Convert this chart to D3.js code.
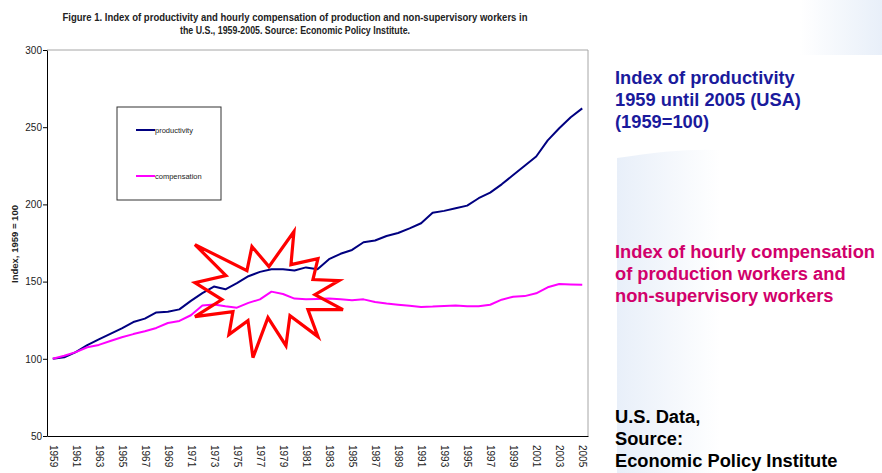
<!DOCTYPE html>
<html lang="en">
  <head>
    <meta charset="UTF-8" />
    <title>Productivity and compensation index, 1959-2005</title>
    <script src="https://d3js.org/d3.v7.min.js"></script>
    <style>
      body {
        margin: 0;
        background: #fff;
      }
      svg {
        display: block;
        font-family: "Liberation Sans", Arial, sans-serif;
      }
    </style>
  </head>
  <body>
    <script>
      // years on the category axis
      const years = d3.range(1959, 2006);

      // index values, 1959 = 100
      const productivity = [
        100, 101, 104.3, 108.8, 112.6, 116.2, 119.7, 123.8, 126, 130,
        130.5, 132, 137.5, 142.5, 146.8, 145, 149, 153.5, 156.3, 158,
        158, 157.2, 159.2, 158, 164.5, 168, 170.5, 175.5, 176.6, 179.5,
        181.5, 184.5, 187.8, 194.6, 195.8, 197.5, 199.2, 204, 207.6, 213,
        219, 225, 231, 241.5, 249.3, 256.4, 262.2
      ];
      const compensation = [
        100, 102, 104.3, 107.5, 109, 111.5, 114, 116, 117.8, 120,
        123.2, 124.5, 128.2, 134.5, 135.2, 134, 133.1, 136.2, 138.5, 143.5,
        142, 139, 138.6, 138.8, 139, 138.5, 138, 138.5, 136.8, 135.8,
        135, 134.3, 133.6, 133.8, 134.2, 134.6, 134.1, 134, 135, 138.3,
        140.2, 140.6, 142.4, 146.3, 148.4, 148.2, 148
      ];

      const yTicks = [50, 100, 150, 200, 250, 300];
      const xTickYears = years.filter((d, i) => i % 2 === 0);

      const series = [
        { name: "productivity", values: productivity, color: "#000080" },
        { name: "compensation", values: compensation, color: "#ff00ff" }
      ];

      const titleLines = [
        "Figure 1. Index of productivity and hourly compensation of production and non-supervisory workers in",
        "the U.S., 1959-2005. Source: Economic Policy Institute."
      ];

      const sideNotes = [
        { lines: ["Index of productivity", "1959 until 2005 (USA)", "(1959=100)"], color: "#1a1a9c", top: 84 },
        { lines: ["Index of hourly compensation", "of production workers and", "non-supervisory workers"], color: "#d1006b", top: 258 },
        { lines: ["U.S. Data,", "Source:", "Economic Policy Institute"], color: "#000000", top: 423 }
      ];

      const width = 882;
      const height = 473;
      const plot = { left: 47, right: 588, top: 50, bottom: 436 };

      const svg = d3
        .select("body")
        .append("svg")
        .attr("width", width)
        .attr("height", height);

      // faint slide background on the right
      const defs = svg.append("defs");
      const grad = defs
        .append("linearGradient")
        .attr("id", "bgFade")
        .attr("x1", 0)
        .attr("x2", 1);
      grad.append("stop").attr("offset", 0).attr("stop-color", "#e8eff9");
      grad.append("stop").attr("offset", 1).attr("stop-color", "#ffffff");
      const grad2 = defs
        .append("linearGradient")
        .attr("id", "cornerFade")
        .attr("x1", 1)
        .attr("x2", 0);
      grad2.append("stop").attr("offset", 0).attr("stop-color", "#e8eff9");
      grad2.append("stop").attr("offset", 1).attr("stop-color", "#ffffff");

      svg
        .append("path")
        .attr("d", "M617,158 Q680,148 720,150 L720,473 L617,473 Z")
        .attr("fill", "url(#bgFade)");
      svg
        .append("rect")
        .attr("x", 800)
        .attr("y", 0)
        .attr("width", 82)
        .attr("height", 55)
        .attr("fill", "url(#cornerFade)");

      // scales
      const x = d3
        .scalePoint()
        .domain(years)
        .range([plot.left, plot.right])
        .padding(0.5);
      const y = d3
        .scaleLinear()
        .domain([50, 300])
        .range([plot.bottom, plot.top]);

      // plot frame (top / right in grey)
      svg
        .append("path")
        .attr("d", `M${plot.left},${plot.top}H${plot.right}V${plot.bottom}`)
        .attr("fill", "none")
        .attr("stroke", "#a6a6a6")
        .attr("stroke-width", 1);

      // title
      svg
        .append("g")
        .selectAll("text")
        .data(titleLines)
        .join("text")
        .attr("x", 295)
        .attr("y", (d, i) => 21 + i * 13)
        .attr("text-anchor", "middle")
        .attr("font-size", 10)
        .attr("font-weight", "bold")
        .attr("fill", "#222")
        .attr("textLength", (d, i) => (i === 0 ? 465 : 230))
        .attr("lengthAdjust", "spacingAndGlyphs")
        .text((d) => d);

      // y axis
      const yAxis = svg
        .append("g")
        .attr("transform", `translate(${plot.left},0)`)
        .call(d3.axisLeft(y).tickValues(yTicks).tickSize(4).tickSizeOuter(0));
      yAxis.select(".domain").attr("stroke", "#000");
      yAxis.selectAll(".tick line").attr("stroke", "#000");
      yAxis
        .selectAll(".tick text")
        .attr("font-size", 10)
        .attr("fill", "#222")
        .attr("x", -5)
        .attr("font-family", "'Liberation Sans Narrow', 'Liberation Sans', Arial, sans-serif");

      svg
        .append("text")
        .attr("transform", "translate(18,244) rotate(-90)")
        .attr("text-anchor", "middle")
        .attr("font-size", 9.5)
        .attr("font-weight", "bold")
        .attr("fill", "#222")
        .text("Index, 1959 = 100");

      // x axis
      const xAxis = svg
        .append("g")
        .attr("transform", `translate(0,${plot.bottom})`)
        .call(d3.axisBottom(x).tickValues(xTickYears).tickSize(0).tickSizeOuter(0));
      xAxis.select(".domain").attr("stroke", "#000").attr("stroke-width", 1.2);
      xAxis
        .selectAll(".tick text")
        .attr("transform", "rotate(90)")
        .attr("x", 9)
        .attr("y", 0)
        .attr("dy", "0.35em")
        .attr("text-anchor", "start")
        .attr("font-size", 10)
        .attr("fill", "#222")
        .attr("font-family", "'Liberation Sans Narrow', 'Liberation Sans', Arial, sans-serif");

      // lines
      const line = d3
        .line()
        .x((d, i) => x(years[i]))
        .y((d) => y(d));

      svg
        .append("g")
        .selectAll("path")
        .data(series)
        .join("path")
        .attr("d", (d) => line(d.values))
        .attr("fill", "none")
        .attr("stroke", (d) => d.color)
        .attr("stroke-width", 2)
        .attr("stroke-linejoin", "round");

      // legend
      const legend = svg.append("g").attr("transform", "translate(117,107)");
      legend
        .append("rect")
        .attr("width", 104)
        .attr("height", 93)
        .attr("fill", "none")
        .attr("stroke", "#333")
        .attr("stroke-width", 1);
      const legendItems = legend
        .selectAll("g")
        .data(series)
        .join("g")
        .attr("transform", (d, i) => `translate(19,${23 + i * 46})`);
      legendItems
        .append("line")
        .attr("x1", 0)
        .attr("x2", 19)
        .attr("stroke", (d) => d.color)
        .attr("stroke-width", 2);
      legendItems
        .append("text")
        .attr("x", 19)
        .attr("dy", "0.35em")
        .attr("font-size", 7.5)
        .attr("fill", "#222")
        .text((d) => d.name);

      // red "explosion" annotation, offsets from an anchor at (1977, 150)
      const starOffsets = [
        [-65, -37], [-13, -11], [-8, -35], [9, -15], [34, -50], [31, -17],
        [58, -23], [53, -2], [79, -1], [55, 13], [83, 28], [48, 28],
        [58, 55], [30, 34], [26, 64], [8, 36], [-7, 76], [-12, 39],
        [-31, 53], [-27, 30], [-65, 35], [-38, 18], [-65, 1], [-34, -6]
      ];
      const ax = x(1977);
      const ay = y(150);
      svg
        .append("polygon")
        .attr("points", starOffsets.map(([dx, dy]) => [ax + dx, ay + dy].join(",")).join(" "))
        .attr("fill", "none")
        .attr("stroke", "#ff0000")
        .attr("stroke-width", 3.2)
        .attr("stroke-linejoin", "miter");

      // side notes
      sideNotes.forEach((note) => {
        svg
          .append("g")
          .selectAll("text")
          .data(note.lines)
          .join("text")
          .attr("x", 615)
          .attr("y", (d, i) => note.top + i * 22)
          .attr("font-size", 18.3)
          .attr("font-weight", "bold")
          .attr("fill", note.color)
          .text((d) => d);
      });
    </script>
  </body>
</html>
